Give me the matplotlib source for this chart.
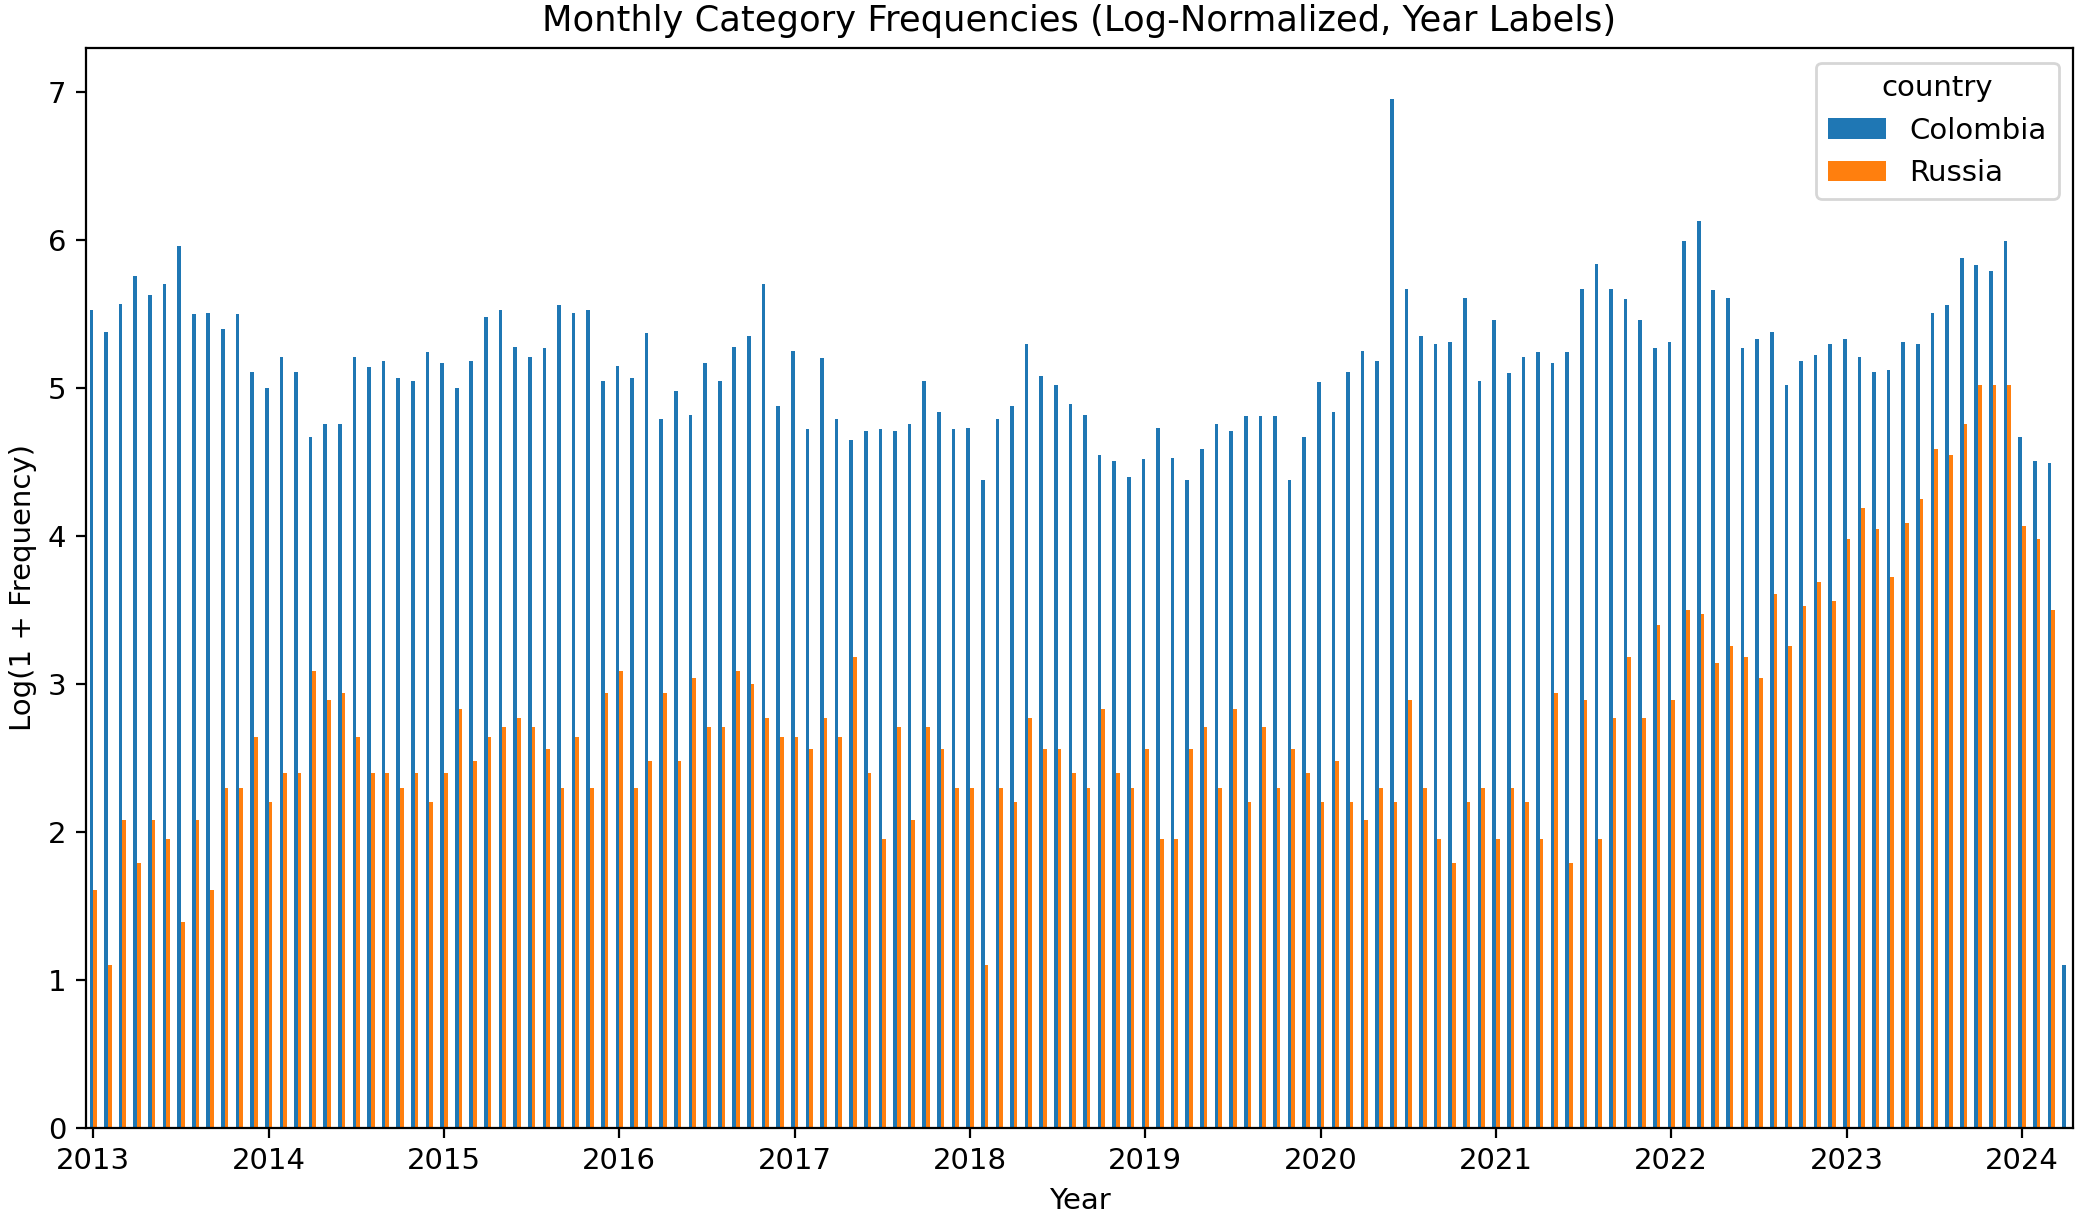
import numpy as np
import pandas as pd
import matplotlib
matplotlib.use("Agg")
import matplotlib.pyplot as plt

plt.rcParams["font.size"] = 10.5

months = pd.period_range("2013-01", "2024-04", freq="M").astype(str).tolist()

colombia = [
    5.53, 5.38, 5.57, 5.76, 5.63, 5.70, 5.96, 5.50, 5.51, 5.40, 5.50, 5.11,
    5.00, 5.21, 5.11, 4.67, 4.76, 4.76, 5.21, 5.14, 5.18, 5.07, 5.05, 5.24,
    5.17, 5.00, 5.18, 5.48, 5.53, 5.28, 5.21, 5.27, 5.56, 5.51, 5.53, 5.05,
    5.15, 5.07, 5.37, 4.79, 4.98, 4.82, 5.17, 5.05, 5.28, 5.35, 5.70, 4.88,
    5.25, 4.72, 5.20, 4.79, 4.65, 4.71, 4.72, 4.71, 4.76, 5.05, 4.84, 4.72,
    4.73, 4.38, 4.79, 4.88, 5.30, 5.08, 5.02, 4.89, 4.82, 4.55, 4.51, 4.40,
    4.52, 4.73, 4.53, 4.38, 4.59, 4.76, 4.71, 4.81, 4.81, 4.81, 4.38, 4.67,
    5.04, 4.84, 5.11, 5.25, 5.18, 6.95, 5.67, 5.35, 5.30, 5.31, 5.61, 5.05,
    5.46, 5.10, 5.21, 5.24, 5.17, 5.24, 5.67, 5.84, 5.67, 5.60, 5.46, 5.27,
    5.31, 5.99, 6.13, 5.66, 5.61, 5.27, 5.33, 5.38, 5.02, 5.18, 5.22, 5.30,
    5.33, 5.21, 5.11, 5.12, 5.31, 5.30, 5.51, 5.56, 5.88, 5.83, 5.79, 5.99,
    4.67, 4.51, 4.49, 1.10,
]

russia = [
    1.61, 1.10, 2.08, 1.79, 2.08, 1.95, 1.39, 2.08, 1.61, 2.30, 2.30, 2.64,
    2.20, 2.40, 2.40, 3.09, 2.89, 2.94, 2.64, 2.40, 2.40, 2.30, 2.40, 2.20,
    2.40, 2.83, 2.48, 2.64, 2.71, 2.77, 2.71, 2.56, 2.30, 2.64, 2.30, 2.94,
    3.09, 2.30, 2.48, 2.94, 2.48, 3.04, 2.71, 2.71, 3.09, 3.00, 2.77, 2.64,
    2.64, 2.56, 2.77, 2.64, 3.18, 2.40, 1.95, 2.71, 2.08, 2.71, 2.56, 2.30,
    2.30, 1.10, 2.30, 2.20, 2.77, 2.56, 2.56, 2.40, 2.30, 2.83, 2.40, 2.30,
    2.56, 1.95, 1.95, 2.56, 2.71, 2.30, 2.83, 2.20, 2.71, 2.30, 2.56, 2.40,
    2.20, 2.48, 2.20, 2.08, 2.30, 2.20, 2.89, 2.30, 1.95, 1.79, 2.20, 2.30,
    1.95, 2.30, 2.20, 1.95, 2.94, 1.79, 2.89, 1.95, 2.77, 3.18, 2.77, 3.40,
    2.89, 3.50, 3.47, 3.14, 3.26, 3.18, 3.04, 3.61, 3.26, 3.53, 3.69, 3.56,
    3.98, 4.19, 4.05, 3.72, 4.09, 4.25, 4.59, 4.55, 4.76, 5.02, 5.02, 5.02,
    4.07, 3.98, 3.50, 0.00,
]

df = pd.DataFrame({"Colombia": colombia, "Russia": russia}, index=months)
df.columns.name = "country"

fig = plt.figure(figsize=(2081 / 200, 1217 / 200), dpi=200)
ax = fig.add_axes([0.0413, 0.0731, 0.9549, 0.8875])
df.plot(kind="bar", ax=ax, color=["#1f77b4", "#ff7f0e"])

tick_pos = list(range(0, len(months), 12))
tick_labels = [months[i][:4] for i in tick_pos]
ax.set_xticks(tick_pos)
ax.set_xticklabels(tick_labels, rotation=0)
ax.set_title("Monthly Category Frequencies (Log-Normalized, Year Labels)", fontsize=12.7)
ax.set_xlabel("Year")
ax.set_ylabel("Log(1 + Frequency)")
ax.legend(title="country", loc="upper right")

fig.savefig("out.png", dpi=200)
